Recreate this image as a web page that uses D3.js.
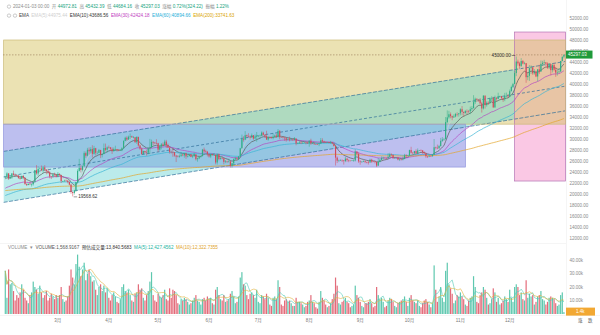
<!DOCTYPE html>
<html><head><meta charset="utf-8">
<script src="https://cdn.jsdelivr.net/npm/d3@7"></script>
<style>body{margin:0;background:#fff}svg{display:block;font-family:Arial,"Liberation Sans","Noto Sans CJK SC",sans-serif}</style>
</head><body><svg id="c" width="600" height="335"></svg>
<script>
// ---------------- DATA ----------------
const startDate = "2023-01-28";
const firstOpen = 23030;
const closes = [
23080,23740,22830,23130,
23730,23490,23430,23330,22930,22760,23260,22960,21800,21630,21860,21780,21780,22200,24330,23740,24570,24630,24280,24840,24440,24190,23940,23190,23160,23550,23490,23140,
23630,23470,22350,22350,22430,22410,22200,21700,20360,20190,20630,22160,24200,24750,24380,25050,27430,26970,28040,27770,28170,27300,28330,27490,27490,27990,27140,27270,28350,28030,28480,
28470,28200,27810,28170,28180,28040,27920,27950,28330,29650,30230,29900,30400,30490,30320,30320,29430,30380,28820,28250,27270,27820,27590,27510,28300,28420,29470,29340,29250,29230,
28070,28670,29030,28850,29530,28900,28430,27660,27630,27620,26990,26800,26780,26930,27170,27030,27400,26830,26890,27120,26750,26850,27220,26330,26480,26720,26870,28080,27750,27700,27220,
26820,27250,27070,27120,25730,27230,26340,26500,26480,25850,25940,25900,25920,25120,25580,26330,26510,26340,26840,28310,30000,29890,30690,30530,30470,30270,30690,30080,30450,30470,
30590,30620,31160,30770,30500,29900,30350,30290,30170,30410,30620,30380,31470,30330,30300,30250,30140,29860,29910,29800,29910,29800,30080,29180,29230,29350,29220,29310,29350,29280,29230,
29700,29170,29180,29070,29050,29040,29180,29770,29570,29430,29400,29420,29280,29400,29170,28700,26620,26050,26100,26190,26120,25990,26430,26160,26060,26010,26090,26100,27730,27300,25930,
25800,25870,25970,25810,25780,25750,26240,25900,25890,25830,25160,25840,26220,26530,26610,26570,26530,26760,27210,27130,26570,26580,26580,26250,26300,26220,26350,27030,26910,26970,
27990,27500,27430,27790,27410,27930,27960,27920,27590,27390,26870,26760,26860,26850,27150,28500,28400,28330,28720,29670,29910,29990,33070,33930,34500,34160,33910,34090,34540,34500,34670,
35420,34940,34730,35080,35050,35040,35420,35620,36700,37310,37130,37070,36490,35550,37880,36160,36600,36570,37360,37450,35760,37420,37290,37720,37800,37450,37240,37830,37850,37720,
38690,39460,39970,41990,44080,43750,43290,44170,43720,43790,41240,41490,42880,43020,41940,42260,41370,42660,42270,43650,43860,43970,43700,43010,43600,42520,43440,42580,42070,42140,42280,
44180,44972.81,45297.03];
const highs = [
23170,23950,23800,23300,
23810,24250,23720,23590,23440,23160,23350,23450,22990,21940,21900,22090,21900,22320,24380,25250,25020,24870,25190,25120,25250,24480,24600,24140,23220,23690,23880,23600,
24000,23780,23480,22420,22600,22600,22550,22270,21820,20370,20790,22190,24500,26390,25250,25200,27760,27720,28390,28470,28520,28870,28750,28400,27800,28190,28040,27500,29180,29170,28660,
28810,28540,28490,28450,28780,28190,28100,28170,28530,29770,30420,30500,30620,31000,30610,30550,30330,30490,30410,28990,28370,27880,27820,28000,28400,30020,29890,29600,29450,29960,
29320,28880,29270,29370,29850,29840,29170,28600,27830,28340,27630,27050,27040,27200,27650,27280,27460,27480,27180,27150,27270,27030,27490,27210,26630,26930,26970,28200,28450,28050,27830,
27340,27300,27330,27450,27150,27360,27360,26800,26790,26530,26200,26080,26400,26100,25750,26470,26770,26690,26890,28400,30800,30500,31430,30800,31050,30660,31000,30710,30840,31280,
30660,30800,31380,31330,30870,31500,30450,30380,30440,31050,30800,30990,31820,31640,30390,30440,30340,30240,30190,30420,30060,29990,30350,30100,29360,29690,29570,29530,29410,29450,29530,
29740,30050,29410,29310,29100,29160,29240,30180,30130,29690,29540,29470,29450,29660,29440,29230,28780,26820,26260,26290,26260,26140,26810,26560,26300,26090,26170,26220,28140,27760,27580,
26130,25980,26120,26080,25880,26020,26430,26410,25950,25980,25880,26550,26400,26830,26770,26620,26620,27430,27490,27380,27160,26740,26630,26730,26430,26390,26820,27300,27230,27090,
28060,28580,27670,27840,28130,28290,28000,28110,27990,27740,27480,26820,27100,26960,27290,30000,28610,28980,28930,30200,30350,30200,34000,35200,35130,34830,34250,34480,34740,34860,34720,
35600,35980,34950,35280,35380,35280,35890,35980,37970,37520,37410,37230,37430,36750,37980,37920,36860,36850,37500,37760,37670,37890,37650,38420,37890,37840,37580,38390,38440,38180,
38990,39700,40200,42420,45000,44440,44030,44700,44370,44040,43800,42100,43430,43400,43090,42700,42440,42740,43500,44280,44230,44400,43810,43940,43800,43580,43680,43800,43110,42600,42890,
44190,44980,45432.39];
const lows = [
22880,23000,22550,22720,
22760,23370,23200,23250,22750,22630,22740,22680,21690,21450,21600,21630,21350,21530,22050,23500,23340,24450,24220,23840,24150,23580,23620,22850,22720,22970,23100,23030,
23020,23200,22000,22180,22200,22250,21930,21580,20050,19568.62,19890,20400,21920,24080,23900,24120,24900,26580,26860,27170,27350,26600,27160,27000,27160,27420,26520,26650,27230,27720,27520,
28250,27870,27280,27670,27830,27710,27790,27880,27800,28170,29610,29660,29870,29970,30230,30120,29270,29110,28610,28010,27130,27140,27330,26970,27200,27240,28370,28890,29040,29100,
27660,27870,28120,28670,28810,28370,28380,27330,27360,26760,26780,25810,26700,26600,26730,26860,26600,26400,26650,26850,26700,26520,26820,26090,25870,26340,26600,26870,27550,27560,26840,
26610,26520,26950,26970,25390,25350,26120,26270,26320,25400,25610,25620,25710,24820,24800,25170,26180,26290,26260,26660,28270,29520,29810,30250,30300,29920,30230,29850,30050,29500,
30320,30170,30560,30630,30200,29850,29700,30040,30070,29950,30280,30250,30250,29940,30260,30090,29660,29520,29760,29560,29730,29640,29740,28860,29060,29100,29080,29120,29260,29030,29110,
28590,28930,29080,28910,28960,28950,28700,29100,29380,29310,29330,29360,29250,29100,29050,28690,25170,25630,25800,25990,25810,25350,25790,25860,25780,25970,25980,25860,25920,27050,25660,
25330,25710,25800,25600,25570,25350,25630,25650,25800,25560,24900,25130,25760,26130,26230,26480,26420,26380,26690,26850,26360,26470,26520,26120,25990,26090,26110,26340,26670,26890,
26950,27330,27160,27220,27350,27170,27840,27720,27260,27300,26560,26540,26690,26810,26840,27110,28100,28150,28180,28600,29470,29660,29890,32880,33690,33760,33400,33880,33930,34080,34080,
34300,34320,34100,34580,34530,34740,34520,35100,35540,36340,36730,36760,36340,34800,35360,35530,35880,36200,36380,36840,35630,35650,36870,37250,37600,37160,36750,36880,37600,37500,
37620,38640,39270,39980,41420,43340,42820,43080,43580,43570,40220,40680,40560,41810,41660,41690,41250,40500,41800,42210,43300,43400,43310,42750,42720,41620,42100,42300,41300,41520,41960,
42180,44120,44684.16];
// volume, thousands
const volumes = [
32,12,33,22,
23,17,10,14,12,16,22,18,12,10,8,14,16,24,20,18,15,21,16,12,14,17,10,12,15,13,11,14,
12,14,20,11,9,10,13,21,33,27,22,37,44,35,28,33,38,25,30,33,28,24,25,18,14,20,22,17,21,16,19,
12,10,14,16,13,9,8,11,20,22,17,16,18,14,10,9,15,16,22,18,19,12,10,14,17,24,31,14,10,9,
15,13,12,14,18,11,10,19,12,18,17,14,8,7,11,10,12,11,9,7,8,10,12,14,10,9,7,11,12,10,13,
11,12,8,7,18,20,14,11,10,14,9,10,11,15,17,13,8,9,13,27,31,22,21,14,11,15,16,14,12,18,
9,8,14,13,11,15,12,7,6,12,13,11,25,20,7,6,10,11,9,10,8,6,6,12,9,9,8,7,5,6,9,
10,14,9,8,5,4,9,17,12,10,7,5,6,8,11,15,27,21,8,7,9,10,12,9,8,5,6,7,21,14,12,
9,6,5,8,8,9,11,8,5,6,20,14,11,12,9,5,6,10,12,11,9,6,5,8,9,10,11,13,9,6,
12,14,10,9,8,10,6,5,8,10,11,9,7,5,8,36,18,9,13,20,12,9,32,38,22,19,15,8,10,14,13,
16,13,11,7,6,10,12,13,28,20,9,8,14,16,20,18,12,7,8,11,19,16,9,12,7,8,10,13,11,9,
18,12,9,20,22,20,14,16,11,10,25,12,15,13,14,7,9,13,14,17,11,10,7,9,12,13,12,11,8,6,7,
14,16,1.4];
const emaPeriods = [5, 10, 30, 60, 200];
const emaSeeds = [23000, 22700, 20900, 19600, 20600];
const priceTicks = d3.range(12000, 52001, 2000);
const volTicks = [10000, 20000, 30000, 40000];
const monthDates = ["2023-03-01","2023-04-01","2023-05-01","2023-06-01","2023-07-01","2023-08-01","2023-09-01","2023-10-01","2023-11-01","2023-12-01"];
const monthNames = ["3月","4月","5月","6月","7月","8月","9月","10月","11月","12月"];
// drawings anchored in (date, price)
const zoneRects = [
  {name:"pink",  d0:"2023-12-04", d1:"2024-01-04", p0:49450, p1:22360},
  {name:"khaki", d0:"2023-01-27", d1:"2024-01-04", p0:48000, p1:32700},
  {name:"lav",   d0:"2023-01-27", d1:"2023-11-04", p0:32700, p1:24900}
];
const channelDates = ["2023-01-27", "2024-01-04"];
const channelFillEnd = "2023-12-04";
const channelTop = [27750, 44100];
const channelBottom = [18480, 35130];
const lastPrice = 45297.03;
const lowMark = {date:"2023-03-10", price:19568.62, label:"19568.62"};
const highMark = {date:"2023-12-05", price:45000, label:"45000.00"};

// ---------------- SETUP ----------------
const parse = d3.timeParse("%Y-%m-%d");
const t0 = parse(startDate);
const dates = closes.map((_, i) => d3.timeDay.offset(t0, i));
const opens = closes.map((c, i) => i === 0 ? firstOpen : closes[i - 1]);
const svg = d3.select("#c");
const PR = 566;
const x = d3.scaleTime().domain([t0, dates[dates.length - 1]]).range([5.3, 5.3 + 340 * 1.643]);
const y = d3.scaleLinear().domain([12000, 52000]).range([238, 18]);
const yv = d3.scaleLinear().domain([0, 40000]).range([314, 260]);
const UP = "#2fae86", DN = "#d4495a", GREEN_TXT = "#17a37e";

svg.append("defs").append("clipPath").attr("id","pc").append("rect").attr("x",0).attr("y",0).attr("width",PR).attr("height",335);
const plot = svg.append("g").attr("clip-path","url(#pc)");

// zones
const zoneStyle = {pink:{fill:"#f7a6d4",op:0.62}, khaki:{fill:"#d6c260",op:0.48}, lav:{fill:"#7c80e0",op:0.5}};
zoneRects.forEach(r => {
  const x0 = x(parse(r.d0)), x1 = x(parse(r.d1));
  plot.append("rect").attr("x", x0).attr("y", y(r.p0)).attr("width", x1 - x0).attr("height", y(r.p1) - y(r.p0))
    .attr("fill", zoneStyle[r.name].fill).attr("fill-opacity", zoneStyle[r.name].op);
});
// channel
const cx0 = x(parse(channelDates[0])), cx1 = x(parse(channelDates[1]));
const lineAt = (ln, xx) => y(ln[0]) + (y(ln[1]) - y(ln[0])) * (xx - cx0) / (cx1 - cx0);
const cxf = x(parse(channelFillEnd));
plot.append("path").attr("d", `M${cx0},${y(channelTop[0])}L${cxf},${lineAt(channelTop, cxf)}L${cxf},${lineAt(channelBottom, cxf)}L${cx0},${y(channelBottom[0])}Z`)
  .attr("fill", "#5cd0d0").attr("fill-opacity", 0.42);
const chMid = [(channelTop[0]+channelBottom[0])/2, (channelTop[1]+channelBottom[1])/2];
[channelTop, chMid, channelBottom].forEach((ln, k) => {
  plot.append("line").attr("x1", cx0).attr("y1", y(ln[0])).attr("x2", cx1).attr("y2", y(ln[1]))
    .attr("stroke", "#2f6f9a").attr("stroke-width", 0.7).attr("stroke-dasharray", k === 1 ? "3,2" : "4,1.5");
});
// zone borders
zoneRects.forEach(r => {
  const x0 = x(parse(r.d0)), x1 = x(parse(r.d1));
  const col = r.name === "pink" ? "#b473b4" : r.name === "khaki" ? "#cbbb78" : "#8f93dd";
  plot.append("rect").attr("x", x0).attr("y", y(r.p0)).attr("width", x1 - x0).attr("height", y(r.p1) - y(r.p0))
    .attr("fill", "none").attr("stroke", col).attr("stroke-width", 0.7);
});
// last price dashed
plot.append("line").attr("x1", 3).attr("x2", PR).attr("y1", y(lastPrice)).attr("y2", y(lastPrice))
  .attr("stroke", "#9a7a58").attr("stroke-width", 0.6).attr("stroke-dasharray", "1.5,1.5");

// EMAs
function ema(vals, n, seed) { const k = 2 / (n + 1); let e = seed; return vals.map(v => (e = v * k + e * (1 - k))); }
const emaColors = ["#cfcfcf", "#5a5a5a", "#b548c0", "#3ab4d4", "#e2a52a"];
emaPeriods.forEach((n, k) => {
  const e = ema(closes, n, emaSeeds[k]);
  plot.append("path").datum(e).attr("fill", "none").attr("stroke", emaColors[k]).attr("stroke-width", 0.7)
    .attr("d", d3.line().x((d, i) => x(dates[i])).y(d => y(d)));
});

// candles
const bw = 1.15;
const cg = plot.append("g");
closes.forEach((c, i) => {
  const o = opens[i], up = c >= o, col = up ? UP : DN, xi = x(dates[i]);
  cg.append("line").attr("x1", xi).attr("x2", xi).attr("y1", y(highs[i])).attr("y2", y(lows[i])).attr("stroke", col).attr("stroke-width", 0.5);
  const yt = y(Math.max(o, c)), yb = y(Math.min(o, c));
  cg.append("rect").attr("x", xi - bw / 2).attr("y", yt).attr("width", bw).attr("height", Math.max(0.5, yb - yt)).attr("fill", col);
});

// markers
[lowMark, highMark].forEach((m, k) => {
  const mx = x(parse(m.date)), my = y(m.price);
  if (k === 0) {
    svg.append("line").attr("x1", mx + 1).attr("x2", mx + 4.5).attr("y1", my + 0.5).attr("y2", my + 0.5).attr("stroke", "#333").attr("stroke-width", 0.5);
    svg.append("text").attr("x", mx + 5.5).attr("y", my + 2).attr("font-size", 4.6).attr("fill", "#333").text(m.label);
  } else {
    svg.append("line").attr("x1", mx - 4.5).attr("x2", mx - 1).attr("y1", my - 1).attr("y2", my - 1).attr("stroke", "#333").attr("stroke-width", 0.5);
    svg.append("text").attr("x", mx - 5.5).attr("y", my + 0.6).attr("text-anchor", "end").attr("font-size", 4.6).attr("fill", "#333").text(m.label);
  }
});

// axis right
svg.append("line").attr("x1", PR + 0.5).attr("x2", PR + 0.5).attr("y1", 0).attr("y2", 316).attr("stroke", "#eeeeee").attr("stroke-width", 0.6);
const ag = svg.append("g").attr("font-size", 4.5).attr("fill", "#8a8a8a");
priceTicks.forEach(t => ag.append("text").attr("x", 569.5).attr("y", y(t) + 1.6).text(d3.format(".2f")(t)));
volTicks.forEach(t => ag.append("text").attr("x", 569.5).attr("y", yv(t) + 1.6).text(d3.format(".2f")(t / 1000) + "k"));
// price tag
svg.append("rect").attr("x", PR).attr("y", y(lastPrice) - 4.3).attr("width", 26.5).attr("height", 8).attr("fill", "#1f9a3a");
svg.append("text").attr("x", PR + 2).attr("y", y(lastPrice) + 1.6).attr("font-size", 4.5).attr("fill", "#fff").text(d3.format(".2f")(lastPrice));

// pane separators
svg.append("line").attr("x1", 0).attr("x2", PR).attr("y1", 243.5).attr("y2", 243.5).attr("stroke", "#eeeeee").attr("stroke-width", 0.6);
svg.append("line").attr("x1", 0).attr("x2", 600).attr("y1", 315.5).attr("y2", 315.5).attr("stroke", "#eeeeee").attr("stroke-width", 0.6);

// volume
const vg = plot.append("g");
volumes.forEach((v, i) => {
  const up = closes[i] >= opens[i], xi = x(dates[i]);
  vg.append("rect").attr("x", xi - 0.6).attr("y", yv(v * 1000)).attr("width", 1.2).attr("height", yv(0) - yv(v * 1000))
    .attr("fill", up ? "#4cc2a6" : "#e05b6b").attr("fill-opacity", 0.9);
});
function sma(vals, n) { return vals.map((v, i) => d3.mean(vals.slice(Math.max(0, i - n + 1), i + 1))); }
[[5, "#4cc9b6"], [10, "#e3b23a"]].forEach(([n, col]) => {
  plot.append("path").datum(sma(volumes, n)).attr("fill", "none").attr("stroke", col).attr("stroke-width", 0.6)
    .attr("d", d3.line().x((d, i) => x(dates[i])).y(d => yv(d * 1000)));
});
const lastVol = volumes[volumes.length - 1];
svg.append("rect").attr("x", PR).attr("y", yv(lastVol * 1000) - 4.5).attr("width", 29).attr("height", 8).attr("fill", "#f2a833");
svg.append("text").attr("x", PR + 10).attr("y", yv(lastVol * 1000) + 1.3).attr("font-size", 4.5).attr("fill", "#fff").text(lastVol + "k");

// month labels
monthDates.forEach((d, k) => svg.append("text").attr("x", x(parse(d))).attr("y", 321.5).attr("text-anchor", "middle")
  .attr("font-size", 4.5).attr("fill", "#777").text(monthNames[k]));
svg.append("text").attr("x", 578).attr("y", 321.5).attr("font-size", 4.5).attr("fill", "#555").text("涨");
svg.append("text").attr("x", 588).attr("y", 321.5).attr("font-size", 4.5).attr("fill", "#555").text("跌");

// legends
function legend(yy, x0, parts) {
  const t = svg.append("text").attr("x", x0).attr("y", yy).attr("font-size", 4.6).attr("xml:space", "preserve");
  parts.forEach(([s, c]) => t.append("tspan").attr("fill", c).text(s));
}
function eye(cx, cy) { svg.append("circle").attr("cx", cx).attr("cy", cy).attr("r", 1.7).attr("fill", "none").attr("stroke", "#999").attr("stroke-width", 0.5); }
eye(9, 6.6); eye(9, 15.6); eye(15, 15.6);
const G = "#8c8c8c";
legend(8.2, 13, [["2024-01-03 00:00  ", G], ["开 ", G], ["44972.81", GREEN_TXT], ["  高 ", G], ["45432.39", GREEN_TXT], ["  低 ", G], ["44684.16", GREEN_TXT],
  ["  收 ", G], ["45297.03", GREEN_TXT], ["  涨幅 ", G], ["0.72%(324.22)", GREEN_TXT], ["  振幅 ", G], ["1.22%", GREEN_TXT]]);
legend(17.2, 19, [["EMA  ", "#444"], ["EMA(5):44975.44  ", "#cfcfcf"], ["EMA(10):43686.56  ", "#333"], ["EMA(30):42424.18  ", "#c040c0"],
  ["EMA(60):40894.66  ", "#27afd8"], ["EMA(200):33741.63", "#d9a400"]]);
legend(248.5, 8, [["VOLUME  ▾  ", G], ["VOLUME:1,568.9167  ", "#555"], ["预估成交量:13,840.5683  ", "#333"], ["MA(5):12,427.4562  ", "#22b3a0"], ["MA(10):12,322.7355", "#e0a22a"]]);
</script>
</body></html>
